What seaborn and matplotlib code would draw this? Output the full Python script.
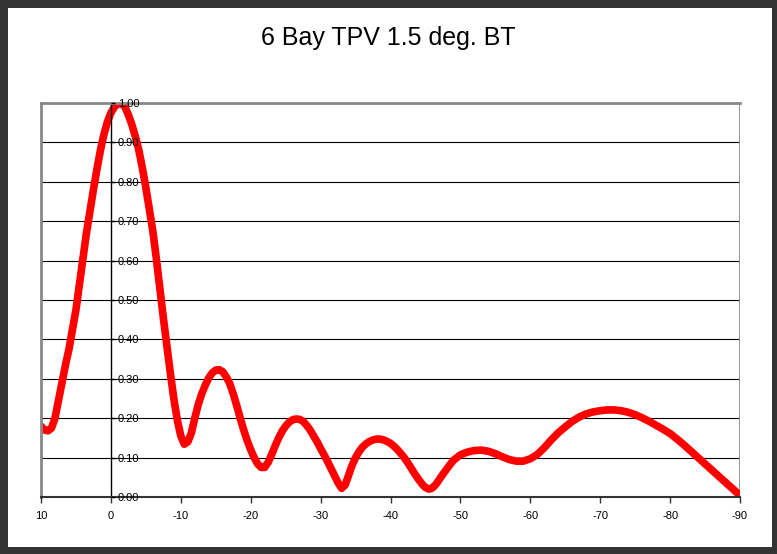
import matplotlib
matplotlib.use("Agg")
import matplotlib.pyplot as plt
import pandas as pd
import seaborn as sns
from matplotlib.patches import Rectangle

# ---------------------------------------------------------------------------
# data
#   0.5 deg steps from 10 to -49.5, then 1 deg steps from -50 to -90
# ---------------------------------------------------------------------------
angle_fine = [10 - 0.5 * i for i in range(120)]
angle_coarse = list(range(-50, -91, -1))
angle = angle_fine + angle_coarse

response_fine = [
    0.180, 0.170, 0.168, 0.175, 0.200, 0.245, 0.290, 0.335, 0.375, 0.425,   # 10 .. 5.5
    0.475, 0.540, 0.605, 0.670, 0.725, 0.780, 0.832, 0.880, 0.920, 0.952,   # 5 .. 0.5
    0.975, 0.990, 0.998, 1.000, 0.990, 0.970, 0.945, 0.915, 0.880, 0.835,   # 0 .. -4.5
    0.785, 0.730, 0.675, 0.605, 0.530, 0.455, 0.385, 0.315, 0.250, 0.195,   # -5 .. -9.5
    0.155, 0.134, 0.140, 0.162, 0.200, 0.235, 0.262, 0.284, 0.302, 0.315,   # -10 .. -14.5
    0.322, 0.323, 0.318, 0.305, 0.288, 0.262, 0.232, 0.200, 0.170, 0.143,   # -15 .. -19.5
    0.120, 0.100, 0.084, 0.075, 0.075, 0.088, 0.108, 0.130, 0.150, 0.167,   # -20 .. -24.5
    0.180, 0.190, 0.196, 0.198, 0.197, 0.192, 0.182, 0.170, 0.155, 0.140,   # -25 .. -29.5
    0.123, 0.107, 0.090, 0.072, 0.054, 0.036, 0.022, 0.030, 0.055, 0.080,   # -30 .. -34.5
    0.100, 0.115, 0.127, 0.135, 0.141, 0.145, 0.147, 0.147, 0.145, 0.141,   # -35 .. -39.5
    0.136, 0.129, 0.120, 0.110, 0.099, 0.086, 0.072, 0.058, 0.045, 0.033,   # -40 .. -44.5
    0.024, 0.020, 0.023, 0.032, 0.045, 0.058, 0.070, 0.082, 0.093, 0.100,   # -45 .. -49.5
]
response_coarse = [
    0.107, 0.114, 0.118, 0.119, 0.116, 0.110, 0.102, 0.095, 0.091, 0.091,   # -50 .. -59
    0.097, 0.108, 0.125, 0.145, 0.163, 0.178, 0.192, 0.203, 0.211, 0.216,   # -60 .. -69
    0.219, 0.221, 0.221, 0.219, 0.215, 0.209, 0.201, 0.192, 0.182, 0.172,   # -70 .. -79
    0.161, 0.147, 0.132, 0.116, 0.100, 0.084, 0.068, 0.052, 0.036, 0.020,   # -80 .. -89
    0.004,                                                                  # -90
]
response = response_fine + response_coarse

x_ticks = [10, 0, -10, -20, -30, -40, -50, -60, -70, -80, -90]
x_tick_labels = ["10", "0", "-10", "-20", "-30", "-40", "-50", "-60", "-70", "-80", "-90"]
y_ticks = [0.0, 0.1, 0.2, 0.3, 0.4, 0.5, 0.6, 0.7, 0.8, 0.9, 1.0]
y_tick_labels = ["0.00", "0.10", "0.20", "0.30", "0.40", "0.50",
                 "0.60", "0.70", "0.80", "0.90", "1.00"]
title = "6 Bay TPV 1.5 deg. BT"

# ---------------------------------------------------------------------------
sns.set_theme(style="white")
plt.rcParams["font.family"] = ["Liberation Sans", "DejaVu Sans"]
plt.rcParams["axes.unicode_minus"] = False

W, H = 777, 554
fig = plt.figure(figsize=(W / 100, H / 100), dpi=100)
fig.patch.set_facecolor("#333333")
fig.patches.append(Rectangle((8 / W, 7 / H), (W - 13) / W, (H - 15) / H,
                             transform=fig.transFigure, facecolor="white",
                             edgecolor="none", zorder=-1))

ax = fig.add_axes([41 / W, 1 - 497 / H, (740 - 41) / W, (497 - 103) / H])
ax.set_axisbelow(False)   # tick labels drawn above the curve

# horizontal gridlines below the curve
for yv in y_ticks[1:-1]:
    ax.axhline(yv, color="black", linewidth=0.8, zorder=1)

df = pd.DataFrame({"angle": angle, "response": response})
sns.lineplot(data=df, x="angle", y="response", color="#ff0000",
             linewidth=5.5, ax=ax, zorder=2, solid_joinstyle="round")

ax.set_xlim(10, -90)
ax.set_ylim(0, 1)
ax.set_xticks(x_ticks)
ax.set_xticklabels(x_tick_labels)
ax.set_yticks(y_ticks)
ax.set_yticklabels(y_tick_labels)
ax.set_xlabel("")
ax.set_ylabel("")
ax.grid(False)

# y axis crosses at x = 0, labels on the "right" of it (x is reversed)
ax.yaxis.tick_right()
ax.spines["right"].set_position(("data", 0))
ax.spines["right"].set_color("black")
ax.spines["right"].set_linewidth(1)
for side in ("left", "top"):
    ax.spines[side].set_color("#888888")
    ax.spines[side].set_linewidth(2)
ax.spines["bottom"].set_color("#333333")
ax.spines["bottom"].set_linewidth(1.5)
ax.axvline(-90, color="#888888", linewidth=2, zorder=1.5)

ax.tick_params(axis="y", right=True, left=False, direction="out", length=3,
               width=1, color="black", pad=2, labelsize=8, labelcolor="black")
ax.tick_params(axis="x", bottom=True, direction="out", length=4, width=1,
               color="#333333", pad=6, labelsize=8, labelcolor="black")

fig.text(0.5, 1 - 38 / H, title, ha="center", va="center", fontsize=18,
         color="black")

fig.savefig("out.png", dpi=100, facecolor=fig.get_facecolor())
